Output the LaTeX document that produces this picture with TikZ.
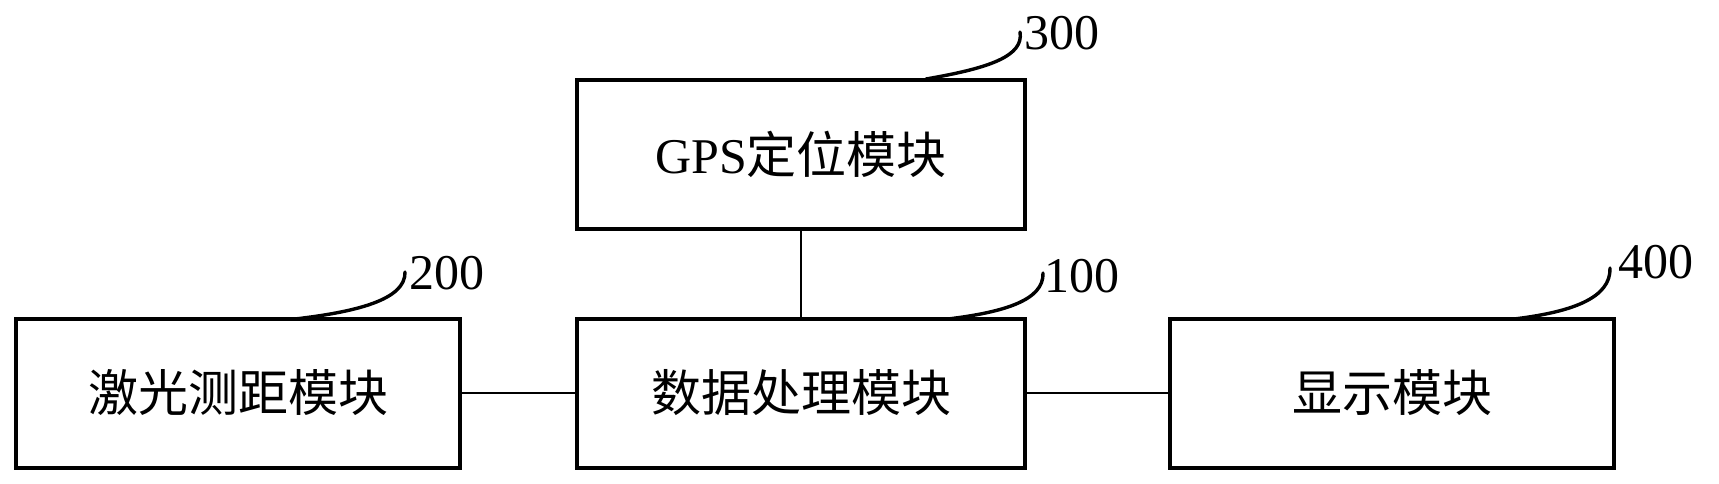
\documentclass[tikz,border=0pt]{standalone}
\usepackage{fontspec}
\setmainfont{Liberation Serif}
\newfontfamily\cjk{Noto Sans CJK SC}
\begin{document}
\begin{tikzpicture}[x=1pt,y=-1pt,
  modbox/.style={draw,line width=4pt,minimum height=149pt,inner sep=0pt,
    font=\fontsize{50pt}{54pt}\selectfont},
  conn/.style={line width=2.8pt},
  leader/.style={line width=3.4pt,line cap=round},
  reflabel/.style={anchor=west,inner sep=0pt,font=\fontsize{50pt}{54pt}\selectfont}]
\useasboundingbox[fill=white] (0,0) rectangle (1719,484);
\node[modbox,minimum width=448pt] (b300) at (801,154.5) {GPS{\cjk 定位模块}};
\node[modbox,minimum width=444pt] (b200) at (238,393) {\cjk 激光测距模块};
\node[modbox,minimum width=448pt] (b100) at (801,393) {\cjk 数据处理模块};
\node[modbox,minimum width=444pt] (b400) at (1392,393) {\cjk 显示模块};
\draw[conn] (b300.south) -- (b100.north);
\draw[conn] (b200.east) -- (b100.west);
\draw[conn] (b100.east) -- (b400.west);
\node[reflabel] (l300) at (1024,33) {300};
\node[reflabel] (l200) at (409,273) {200};
\node[reflabel] (l100) at (1044,276) {100};
\node[reflabel] (l400) at (1618,262) {400};
\coordinate (s300) at (926,79);
\coordinate (e300) at (1020,32);
\coordinate (s200) at (295,319);
\coordinate (e200) at (405,272);
\coordinate (s100) at (948,319);
\coordinate (e100) at (1043,273);
\coordinate (s400) at (1514,319);
\coordinate (e400) at (1610,268);
\draw[leader] (s300) .. controls (990,68) and (1024,56) .. (e300);
\draw[leader] (s200) .. controls (355,312) and (406,300) .. (e200);
\draw[leader] (s100) .. controls (1005,312) and (1044,300) .. (e100);
\draw[leader] (s400) .. controls (1572,312) and (1611,298) .. (e400);
\end{tikzpicture}
\end{document}
